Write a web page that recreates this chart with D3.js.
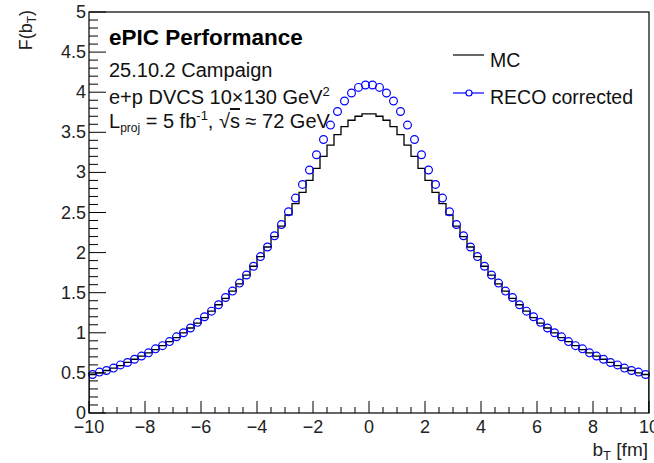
<!DOCTYPE html>
<html><head><meta charset="utf-8">
<script src="https://cdn.jsdelivr.net/npm/d3@7"></script>
<style>body{margin:0;background:#fff}svg{display:block}text{font-family:"Liberation Sans",Arial,Helvetica,sans-serif}</style>
</head><body><svg id="c" width="654" height="463"></svg>
<script>
const bT = [-9.875,-9.625,-9.375,-9.125,-8.875,-8.625,-8.375,-8.125,-7.875,-7.625,-7.375,-7.125,-6.875,-6.625,-6.375,-6.125,-5.875,-5.625,-5.375,-5.125,-4.875,-4.625,-4.375,-4.125,-3.875,-3.625,-3.375,-3.125,-2.875,-2.625,-2.375,-2.125,-1.875,-1.625,-1.375,-1.125,-0.875,-0.625,-0.375,-0.125,
0.125,0.375,0.625,0.875,1.125,1.375,1.625,1.875,2.125,2.375,2.625,2.875,3.125,3.375,3.625,3.875,4.125,4.375,4.625,4.875,5.125,5.375,5.625,5.875,6.125,6.375,6.625,6.875,7.125,7.375,7.625,7.875,8.125,8.375,8.625,8.875,9.125,9.375,9.625,9.875];
const binWidth = 0.25;
const mcValues = [0.48,0.50,0.53,0.56,0.59,0.63,0.67,0.71,0.75,0.79,0.84,0.89,0.94,1.00,1.06,1.12,1.19,1.27,1.35,1.43,1.52,1.61,1.72,1.83,1.95,2.07,2.20,2.33,2.47,2.61,2.75,2.90,3.05,3.20,3.34,3.47,3.57,3.65,3.70,3.73,
3.73,3.70,3.65,3.57,3.47,3.34,3.20,3.05,2.90,2.75,2.61,2.47,2.33,2.20,2.07,1.95,1.83,1.72,1.61,1.52,1.43,1.35,1.27,1.19,1.12,1.06,1.00,0.94,0.89,0.84,0.79,0.75,0.71,0.67,0.63,0.59,0.56,0.53,0.50,0.48];
const recoValues = [0.48,0.51,0.53,0.56,0.60,0.63,0.67,0.71,0.75,0.80,0.84,0.89,0.95,1.00,1.06,1.13,1.20,1.27,1.35,1.44,1.52,1.62,1.72,1.83,1.95,2.07,2.21,2.35,2.51,2.68,2.85,3.03,3.22,3.41,3.59,3.76,3.89,3.99,4.06,4.09,
4.09,4.06,3.99,3.89,3.76,3.59,3.41,3.22,3.03,2.85,2.68,2.51,2.35,2.21,2.07,1.95,1.83,1.72,1.62,1.52,1.44,1.35,1.27,1.20,1.13,1.06,1.00,0.95,0.89,0.84,0.80,0.75,0.71,0.67,0.63,0.60,0.56,0.53,0.51,0.48];
const xTicks = [-10,-8,-6,-4,-2,0,2,4,6,8,10];
const yTicks = [0,0.5,1,1.5,2,2.5,3,3.5,4,4.5,5];
const seriesNames = ["MC","RECO corrected"];

const svg = d3.select("#c");
const L=89,R=649,T=12,B=413;
const x = d3.scaleLinear().domain([-10,10]).range([L,R]);
const y = d3.scaleLinear().domain([0,5]).range([B,T]);
const FONT = 18;

const g = svg.append("g");
svg.append("clipPath").attr("id","pc").append("rect").attr("x",L).attr("y",T).attr("width",R-L).attr("height",B-T);
let pts = [[bT[0]-binWidth/2,0]];
bT.forEach((c,i)=>{pts.push([c-binWidth/2,mcValues[i]]);pts.push([c+binWidth/2,mcValues[i]]);});
pts.push([bT[bT.length-1]+binWidth/2,0]);
g.append("path").attr("clip-path","url(#pc)")
 .attr("d",d3.line().x(d=>x(d[0])).y(d=>y(d[1]))(pts))
 .attr("fill","none").attr("stroke","#000").attr("stroke-width",1.3);
g.selectAll("circle.r").data(bT).join("circle").attr("class","r")
 .attr("cx",d=>x(d)).attr("cy",(d,i)=>y(recoValues[i])).attr("r",3.9)
 .attr("fill","none").attr("stroke","#0000ff").attr("stroke-width",1.2);

svg.append("rect").attr("x",L).attr("y",T).attr("width",R-L).attr("height",B-T)
 .attr("fill","none").attr("stroke","#000").attr("stroke-width",1.2);

// x axis ticks
const xMinor = d3.range(-10,10.01,0.5);
svg.append("g").selectAll("line").data(xMinor).join("line")
 .attr("x1",d=>x(d)).attr("x2",d=>x(d)).attr("y1",B)
 .attr("y2",d=>xTicks.some(t=>Math.abs(t-d)<1e-6)?B-12:B-6)
 .attr("stroke","#000").attr("stroke-width",1);
svg.append("g").selectAll("text").data(xTicks).join("text")
 .attr("x",d=>x(d)).attr("y",433).attr("text-anchor","middle").attr("font-size",FONT).attr("fill","#222")
 .text(d=>d<0?"\u2212"+(-d):String(d));
// y axis ticks
const yMinor = d3.range(0,5.001,0.1);
svg.append("g").selectAll("line").data(yMinor).join("line")
 .attr("y1",d=>y(d)).attr("y2",d=>y(d)).attr("x1",L)
 .attr("x2",d=>yTicks.some(t=>Math.abs(t-d)<1e-6)?L+17:L+9)
 .attr("stroke","#000").attr("stroke-width",1);
svg.append("g").selectAll("text").data(yTicks).join("text")
 .attr("x",86).attr("y",d=>y(d)+6).attr("text-anchor","end").attr("font-size",FONT).attr("fill","#222")
 .text(d=>String(d));

// axis titles
const xt = svg.append("text").attr("x",648).attr("y",456).attr("text-anchor","end").attr("font-size",19).attr("fill","#222");
xt.append("tspan").text("b");
xt.append("tspan").attr("font-size",13).attr("dy",4).text("T");
xt.append("tspan").attr("dy",-4).text(" [fm]");
const yt = svg.append("text").attr("transform","translate(32,10) rotate(-90)").attr("text-anchor","end").attr("font-size",18).attr("fill","#222");
yt.append("tspan").text("F(b");
yt.append("tspan").attr("font-size",12).attr("dy",4).text("T");
yt.append("tspan").attr("dy",-4).text(")");

// text block
svg.append("text").attr("x",109).attr("y",45).attr("font-size",22.5).attr("font-weight","bold").attr("fill","#000").text("ePIC Performance");
svg.append("text").attr("x",109).attr("y",77).attr("font-size",20).attr("fill","#111").text("25.10.2 Campaign");
const t3 = svg.append("text").attr("x",109).attr("y",104).attr("font-size",20).attr("fill","#111");
t3.append("tspan").text("e+p DVCS 10\u00d7130 GeV");
t3.append("tspan").attr("font-size",13).attr("dy",-8).text("2");
const t4 = svg.append("text").attr("x",109).attr("y",128).attr("font-size",20).attr("fill","#111");
t4.append("tspan").text("L");
t4.append("tspan").attr("font-size",12).attr("dy",4).text("proj");
t4.append("tspan").attr("dy",-4).text(" = 5 fb");
t4.append("tspan").attr("font-size",13).attr("dy",-8).text("-1");
t4.append("tspan").attr("dy",8).text(", \u221a");
t4.append("tspan").attr("text-decoration","overline").text("s");
t4.append("tspan").text(" \u2248 72 GeV");

// legend
const lg = svg.append("g");
lg.append("line").attr("x1",453).attr("x2",484).attr("y1",55).attr("y2",55).attr("stroke","#000").attr("stroke-width",1.2);
lg.append("text").attr("x",490).attr("y",67).attr("font-size",19.5).attr("fill","#111").text(seriesNames[0]);
lg.append("line").attr("x1",453).attr("x2",484).attr("y1",93).attr("y2",93).attr("stroke","#0000ff").attr("stroke-width",1.2);
lg.append("circle").attr("cx",469).attr("cy",93).attr("r",3).attr("fill","#fff").attr("stroke","#0000ff").attr("stroke-width",1.2);
lg.append("text").attr("x",490).attr("y",104).attr("font-size",19.5).attr("fill","#111").text(seriesNames[1]);
</script></body></html>
